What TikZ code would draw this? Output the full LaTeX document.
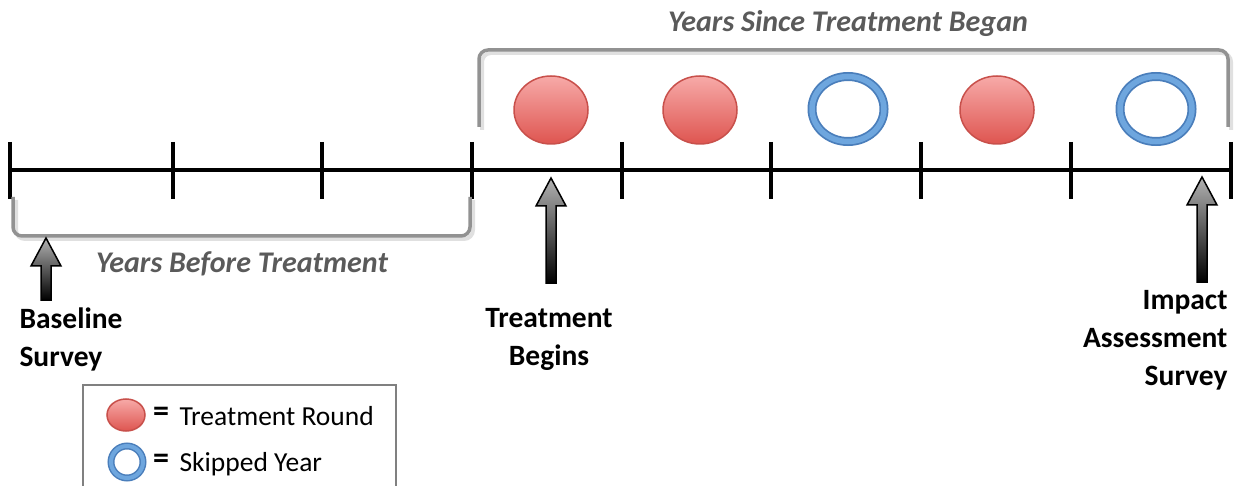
\documentclass[tikz,border=0pt]{standalone}
\usepackage{fontspec}
\setmainfont{Carlito}
\usetikzlibrary{shapes.geometric}
\definecolor{redtop}{HTML}{F7AAA8}
\definecolor{redbot}{HTML}{DE5550}
\definecolor{redline}{HTML}{C8504B}
\definecolor{blueout}{HTML}{4A7EBB}
\definecolor{bluein}{HTML}{6EA6DE}
\definecolor{brack}{HTML}{929292}
\definecolor{titlegray}{HTML}{5A5A5A}
\tikzset{
  redround/.style={ellipse, minimum width=74pt, minimum height=68pt, inner sep=0pt,
     top color=redtop, bottom color=redbot, draw=redline, line width=1.5pt},
  bluering/.style={ellipse, minimum width=72pt, minimum height=65pt, inner sep=0pt,
     draw=blueout, line width=9pt},
  blueringin/.style={ellipse, minimum width=72pt, minimum height=65pt, inner sep=0pt,
     draw=bluein, line width=5.5pt},
  axisline/.style={line width=4pt, black},
  bracketline/.style={draw=brack, line width=3.5pt, rounded corners=9pt},
  bracketshadow/.style={draw=black!12, line width=4pt, rounded corners=9pt},
  bracetitle/.style={font=\fontsize{30}{36}\selectfont\bfseries\itshape, text=titlegray},
  label/.style={font=\fontsize{29.5}{38}\selectfont\bfseries},
  legendtext/.style={font=\fontsize{27.5}{32}\selectfont, anchor=west},
  blockarrow/.style={draw=black, line width=1.5pt, top color=black!30, bottom color=black},
}
\begin{document}
\begin{tikzpicture}[x=1pt,y=-1pt]
\useasboundingbox (0,0) rectangle (1236,486);
\clip (0,0) rectangle (1236,486);
% timeline
\coordinate (L) at (8,170);
\coordinate (R) at (1233,170);
\draw[axisline] (L) -- (R);
\foreach \x in {10,173,322,472,622,771,921,1071,1231}
  \draw[axisline] (\x,142) -- (\x,199);
% bottom bracket
\draw[bracketshadow] (16,200) -- (16,239) -- (473,239) -- (473,200);
\draw[bracketline] (13,197) -- (13,236) -- (470,236) -- (470,197);
\node[bracetitle] (ybt) at (242,264) {Years Before Treatment};
% top bracket
\draw[bracketshadow] (482,130) -- (482,53) -- (1231,53) -- (1231,130);
\draw[bracketline] (479,127) -- (479,50) -- (1228,50) -- (1228,127);
\node[bracetitle] (yst) at (848,24) {Years Since Treatment Began};
% rounds
\node[redround] (r1) at (551,110) {};
\node[redround] (r2) at (700,110) {};
\node[bluering] (s1) at (848,109) {};
\node[blueringin] at (s1) {};
\node[redround] (r3) at (997,110) {};
\node[bluering] (s2) at (1156,109) {};
\node[blueringin] at (s2) {};
% arrows
\newcommand{\uparrowat}[3]{% x, tip y, bottom y
  \draw[blockarrow] (#1,#2) -- (#1+15,#2+28) -- (#1+5,#2+28) -- (#1+5,#3)
     -- (#1-5,#3) -- (#1-5,#2+28) -- (#1-15,#2+28) -- cycle;}
\uparrowat{46}{238}{300}
\uparrowat{551}{178}{283}
\uparrowat{1202}{177}{282}
% labels
\node[label, align=left, anchor=west] (bs) at (16,339) {Baseline\\Survey};
\node[label, align=center] (tb) at (549,339) {Treatment\\Begins};
\node[label, align=right, anchor=east] (ias) at (1231,340) {Impact\\Assessment\\Survey};
% legend
\draw[draw=black!50, line width=2pt] (83,385) rectangle (396,520);
\node[redround, minimum width=38pt, minimum height=32pt] (lr) at (126,415) {};
\node[bluering, minimum width=32pt, minimum height=32pt, line width=7pt] (lb) at (127,462) {};
\node[blueringin, minimum width=32pt, minimum height=32pt, line width=4pt] at (lb) {};
\node[font=\fontsize{32}{36}\selectfont\bfseries] (eq1) at (161,414) {=};
\node[font=\fontsize{32}{36}\selectfont\bfseries] (eq2) at (161,461) {=};
\node[legendtext] (t1) at (176,416) {Treatment Round};
\node[legendtext] (t2) at (176,464) {Skipped Year};
\end{tikzpicture}
\end{document}
